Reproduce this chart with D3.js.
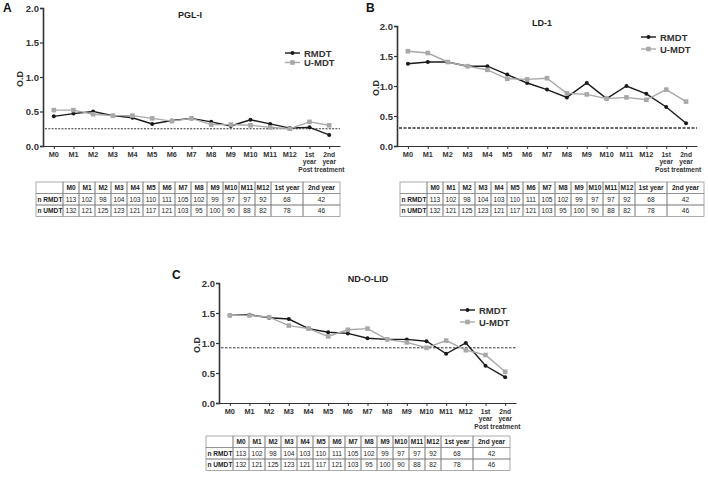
<!DOCTYPE html>
<html><head><meta charset="utf-8">
<script src="https://cdn.jsdelivr.net/npm/d3@7"></script>
<style>
body{margin:0;background:#fff}
svg{display:block}
text{font-family:"Liberation Sans",Arial,sans-serif}
</style>
</head><body>
<svg id="c" width="708" height="477"></svg>
<script>
const months = ["M0","M1","M2","M3","M4","M5","M6","M7","M8","M9","M10","M11","M12","1st year","2nd year"];
const yTicks = [0, 0.5, 1.0, 1.5, 2.0];
const seriesNames = ["RMDT", "U-MDT"];

const pglRMDT = [0.43,0.47,0.50,0.44,0.41,0.32,0.37,0.40,0.35,0.29,0.38,0.32,0.26,0.27,0.16];
const pglUMDT = [0.52,0.52,0.46,0.44,0.44,0.40,0.36,0.40,0.31,0.31,0.30,0.27,0.25,0.35,0.30];
const pglCutoff = 0.25;

const ld1RMDT = [1.37,1.40,1.40,1.33,1.33,1.19,1.05,0.94,0.81,1.05,0.79,1.00,0.87,0.65,0.38];
const ld1UMDT = [1.58,1.55,1.40,1.33,1.27,1.12,1.11,1.13,0.88,0.86,0.79,0.81,0.77,0.94,0.74];
const ld1Cutoff = 0.30;

const ndoRMDT = [1.46,1.47,1.42,1.40,1.24,1.18,1.16,1.08,1.06,1.06,1.03,0.82,1.00,0.62,0.43];
const ndoUMDT = [1.46,1.46,1.43,1.29,1.24,1.11,1.22,1.24,1.06,1.01,0.92,1.04,0.88,0.80,0.52];
const ndoCutoff = 0.92;

const tableRowLabels = ["n RMDT", "n UMDT"];
const nRMDT = [113,102,98,104,103,110,111,105,102,99,97,97,92,68,42];
const nUMDT = [132,121,125,123,121,117,121,103,95,100,90,88,82,78,46];

const svg = d3.select("#c");
const cR = "#1a1a1a", cU = "#a8a8a8";

function panel(o) {
  const g = svg.append("g");
  const x = d3.scalePoint().domain(months).range([o.ax0, o.ax1]).padding(0.55);
  const y = d3.scaleLinear().domain([0, 2]).range([o.y0, o.y2]);

  const ya = g.append("g").attr("transform", `translate(${o.ax0},0)`)
    .call(d3.axisLeft(y).tickValues(yTicks).tickFormat(d3.format(".1f")).tickSize(3).tickPadding(1));
  ya.select(".domain").attr("stroke", "#333").attr("stroke-width", 1.6);
  ya.selectAll(".tick line").attr("stroke", "#333").attr("stroke-width", 1.2);
  ya.selectAll(".tick text").attr("font-size", 9.5).attr("font-weight", "bold").attr("fill", "#333")
    .attr("font-family", "Liberation Sans, Arial, sans-serif");

  const xa = g.append("g").attr("transform", `translate(0,${o.y0})`)
    .call(d3.axisBottom(x).tickSize(3).tickSizeOuter(0).tickFormat(""));
  xa.select(".domain").attr("stroke", "#333").attr("stroke-width", 1.2);
  xa.selectAll(".tick line").attr("stroke", "#333").attr("stroke-width", 1);

  months.forEach(m => {
    const parts = m.split(" ");
    parts.forEach((p, i) => {
      g.append("text").attr("x", x(m)).attr("y", o.y0 + 10.5 + i * 7.8)
        .attr("text-anchor", "middle").attr("font-size", parts.length > 1 ? 6.6 : 7.3).attr("font-weight", "bold")
        .attr("fill", "#333").text(p);
    });
  });
  g.append("text").attr("x", (x("1st year") + x("2nd year")) / 2 + 2).attr("y", o.y0 + 26.2)
    .attr("text-anchor", "middle").attr("font-size", 6.6).attr("font-weight", "bold")
    .attr("fill", "#333").text("Post treatment");

  g.append("line").attr("x1", o.ax0 + 2).attr("x2", o.ax1).attr("y1", y(o.cut)).attr("y2", y(o.cut))
    .attr("stroke", "#333").attr("stroke-width", o.cutW).attr("stroke-dasharray", o.cutDash);

  const line = d3.line().x((d, i) => x(months[i])).y(d => y(d));
  g.append("path").datum(o.r).attr("d", line).attr("fill", "none").attr("stroke", cR).attr("stroke-width", 1.4);
  g.selectAll(null).data(o.r).enter().append("circle")
    .attr("cx", (d, i) => x(months[i])).attr("cy", d => y(d)).attr("r", 2).attr("fill", cR);
  g.append("path").datum(o.u).attr("d", line).attr("fill", "none").attr("stroke", cU).attr("stroke-width", 1.4);
  g.selectAll(null).data(o.u).enter().append("rect")
    .attr("x", (d, i) => x(months[i]) - 2.3).attr("y", d => y(d) - 2.3).attr("width", 4.6).attr("height", 4.6).attr("fill", cU);

  [[seriesNames[0], cR, "c"], [seriesNames[1], cU, "s"]].forEach((s, i) => {
    const ly = o.legY + i * o.legGap;
    g.append("line").attr("x1", o.legX).attr("x2", o.legX + 15).attr("y1", ly).attr("y2", ly)
      .attr("stroke", s[1]).attr("stroke-width", 1.4);
    if (s[2] === "c") g.append("circle").attr("cx", o.legX + 7.5).attr("cy", ly).attr("r", 2).attr("fill", s[1]);
    else g.append("rect").attr("x", o.legX + 5.2).attr("y", ly - 2.3).attr("width", 4.6).attr("height", 4.6).attr("fill", s[1]);
    g.append("text").attr("x", o.legX + 19).attr("y", ly + 3.5).attr("font-size", 9.5).attr("font-weight", "bold")
      .attr("fill", "#333").text(s[0]);
  });

  g.append("text").attr("x", o.titleX).attr("y", o.titleY).attr("text-anchor", "middle")
    .attr("font-size", 9).attr("font-weight", "bold").attr("fill", "#222").text(o.title);
  g.append("text").attr("transform", `translate(${o.odX},${(y(0) + y(2)) / 2 + 2}) rotate(-90)`)
    .attr("text-anchor", "middle").attr("font-size", 9).attr("font-weight", "bold").attr("fill", "#333").text("O.D");
  g.append("text").attr("x", o.letX).attr("y", o.letY).attr("font-size", 12).attr("font-weight", "bold")
    .attr("fill", "#111").text(o.letter);
}

function table(tx, ty) {
  const g = svg.append("g");
  const widths = [27].concat(months.map(m => m.includes("year") ? (m[0] === "1" ? 32 : 37) : 16));
  const xs = [tx];
  widths.forEach(w => xs.push(xs[xs.length - 1] + w));
  const rh = 11.5;
  const rows = [[""].concat(months), [tableRowLabels[0]].concat(nRMDT), [tableRowLabels[1]].concat(nUMDT)];
  rows.forEach((row, ri) => {
    row.forEach((v, ci) => {
      g.append("rect").attr("x", xs[ci]).attr("y", ty + ri * rh).attr("width", widths[ci]).attr("height", rh)
        .attr("fill", "none").attr("stroke", "#888").attr("stroke-width", 0.7);
      g.append("text").attr("x", ci === 0 ? xs[ci] + 1.5 : xs[ci] + widths[ci] / 2)
        .attr("y", ty + ri * rh + rh / 2 + 2.4)
        .attr("text-anchor", ci === 0 ? "start" : "middle")
        .attr("font-size", 6.6).attr("font-weight", (ri === 0 || ci === 0) ? "bold" : "normal")
        .attr("fill", "#222").text(v);
    });
  });
}

panel({letter: "A", title: "PGL-I", r: pglRMDT, u: pglUMDT, cut: pglCutoff, cutW: 1, cutDash: "2,1.3",
  ax0: 43, ax1: 340, y0: 146, y2: 8, titleX: 190, titleY: 18, legX: 285, legY: 53, legGap: 9.5,
  odX: 23, letX: 3, letY: 12});
panel({letter: "B", title: "LD-1", r: ld1RMDT, u: ld1UMDT, cut: ld1Cutoff, cutW: 1.5, cutDash: "3,1.5",
  ax0: 397, ax1: 697, y0: 146, y2: 26, titleX: 542, titleY: 26, legX: 641, legY: 37, legGap: 12,
  odX: 379, letX: 366, letY: 12});
panel({letter: "C", title: "ND-O-LID", r: ndoRMDT, u: ndoUMDT, cut: ndoCutoff, cutW: 1, cutDash: "2.5,1.5",
  ax0: 219, ax1: 516, y0: 403, y2: 283, titleX: 368, titleY: 282, legX: 460, legY: 310, legGap: 12,
  odX: 200, letX: 172, letY: 279});

table(36, 182);
table(400, 182);
table(206, 436);
</script>
</body></html>
